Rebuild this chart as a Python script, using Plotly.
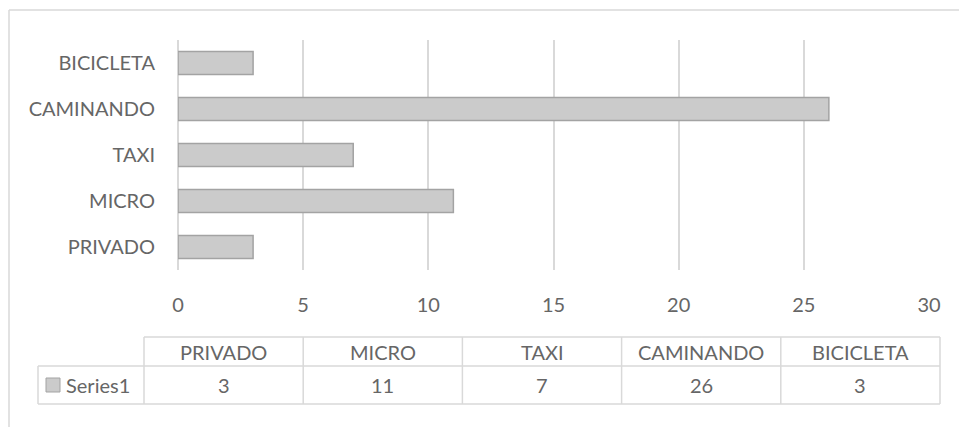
import plotly.graph_objects as go

categories = ["PRIVADO", "MICRO", "TAXI", "CAMINANDO", "BICICLETA"]
values = [3, 11, 7, 26, 3]
series_name = "Series1"
x_ticks = [0, 5, 10, 15, 20, 25, 30]

W, H = 959, 427
L, R, T, B = 178, 929, 40, 270  # plot area in pixels
FONT = "Lato"
FS = 20
FW = 400
TXT = "#666666"
GRID = "#d9d9d9"

def px(x):
    return (x - L) / (R - L)

def py(y):
    return (B - y) / (B - T)

def f():
    return dict(family=FONT, size=FS, color=TXT, weight=FW)

fig = go.Figure()
fig.add_trace(go.Bar(
    y=categories, x=values, orientation="h", width=0.5,
    marker=dict(color="#cbcbcb", line=dict(color="#a3a3a3", width=1.5)),
    name=series_name, showlegend=False,
))

shapes = []
annotations = []

# outer chart border (top and left visible)
shapes.append(dict(type="line", xref="paper", yref="paper", x0=px(9), x1=px(W + 5), y0=py(10), y1=py(10),
                   line=dict(color=GRID, width=1.5)))
shapes.append(dict(type="line", xref="paper", yref="paper", x0=px(9), x1=px(9), y0=py(10), y1=py(H + 5),
                   line=dict(color=GRID, width=1.5)))

# data table
col_left, col_right = 144, 940
row_top, row_mid, row_bot = 337, 366, 404
legend_left = 38
n = len(categories)
cw = (col_right - col_left) / n
lc = dict(color=GRID, width=1.5)
shapes.append(dict(type="line", xref="paper", yref="paper", x0=px(col_left), x1=px(col_right),
                   y0=py(row_top), y1=py(row_top), line=lc))
for yy in (row_mid, row_bot):
    shapes.append(dict(type="line", xref="paper", yref="paper", x0=px(legend_left), x1=px(col_right),
                       y0=py(yy), y1=py(yy), line=lc))
shapes.append(dict(type="line", xref="paper", yref="paper", x0=px(legend_left), x1=px(legend_left),
                   y0=py(row_mid), y1=py(row_bot), line=lc))
for i in range(n + 1):
    xx = col_left + i * cw
    shapes.append(dict(type="line", xref="paper", yref="paper", x0=px(xx), x1=px(xx),
                       y0=py(row_top), y1=py(row_bot), line=lc))
# legend key
shapes.append(dict(type="rect", xref="paper", yref="paper", x0=px(46), x1=px(60),
                   y0=py(392), y1=py(378), fillcolor="#cbcbcb", line=dict(color="#a3a3a3", width=1)))
annotations.append(dict(xref="paper", yref="paper", x=px(64), y=py((row_mid + row_bot) / 2),
                        text=series_name, showarrow=False, xanchor="left", yanchor="middle",
                        font=f()))
for i, (c, v) in enumerate(zip(categories, values)):
    cx = col_left + (i + 0.5) * cw
    annotations.append(dict(xref="paper", yref="paper", x=px(cx), y=py((row_top + row_mid) / 2),
                            text=c, showarrow=False, xanchor="center", yanchor="middle", font=f()))
    annotations.append(dict(xref="paper", yref="paper", x=px(cx), y=py((row_mid + row_bot) / 2),
                            text=str(v), showarrow=False, xanchor="center", yanchor="middle", font=f()))

fig.update_layout(
    width=W, height=H,
    margin=dict(l=L, r=W - R, t=T, b=H - B, pad=0),
    paper_bgcolor="white", plot_bgcolor="white",
    font=f(),
    shapes=shapes, annotations=annotations,
    xaxis=dict(range=[0, 30], tickvals=x_ticks, showgrid=True, gridcolor=GRID, gridwidth=1.5,
               zeroline=True, zerolinecolor=GRID, zerolinewidth=1.5, showline=False, ticks="",
               ticklabelstandoff=21, tickfont=f(), fixedrange=True),
    yaxis=dict(categoryorder="array", categoryarray=categories, showgrid=False, zeroline=False,
               showline=False, ticks="", ticklabelstandoff=22, tickfont=f(), range=[-0.5, 4.5],
               fixedrange=True),
    bargap=0.5,
)

fig.write_html("out.html", config={"displayModeBar": False},
               post_script="document.body.style.margin='0';")
